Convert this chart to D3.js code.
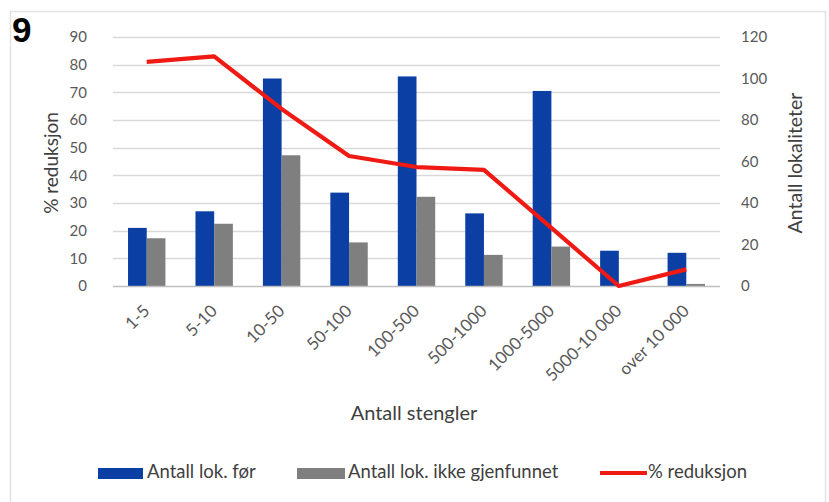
<!DOCTYPE html>
<html>
<head>
<meta charset="utf-8">
<script src="https://cdn.jsdelivr.net/npm/d3@7"></script>
<style>
  html, body { margin: 0; padding: 0; background: #fff; }
  svg { display: block; }
  text { font-family: Lato, "Open Sans", sans-serif; }
</style>
</head>
<body>
<svg id="chart" width="829" height="502"></svg>
<script>
// Antall lokaliteter per størrelsesklasse (antall stengler)
const categories = ["1-5", "5-10", "10-50", "50-100", "100-500", "500-1000", "1000-5000", "5000-10 000", "over 10 000"];
const antallFor = [28, 36, 100, 45, 101, 35, 94, 17, 16];
const antallIkkeGjenfunnet = [23, 30, 63, 21, 43, 15, 19, 0, 1];
const prosentReduksjon = [81, 83, 64, 47, 43, 42, 21, 0, 6];
const leftTicks = [0, 10, 20, 30, 40, 50, 60, 70, 80, 90];
const rightTicks = [0, 20, 40, 60, 80, 100, 120];

const svg = d3.select("#chart");
const W = 829, H = 502;
const plot = { left: 113, right: 720, top: 37, bottom: 286 };
const BLUE = "#0b3fa3", GREY = "#7f7f7f", RED = "#f01a14";

// frame
svg.append("path")
  .attr("d", `M10.5,${H} V11.5 H825.5 V${H}`)
  .attr("fill", "none").attr("stroke", "#e2e2e2").attr("stroke-width", 1.5);

svg.append("text").attr("x", 12).attr("y", 42)
  .style("font-family", "'Liberation Sans', Arial, sans-serif")
  .style("font-weight", "bold").style("font-size", "35px").attr("fill", "#000")
  .text("9");

const x = d3.scaleBand().domain(categories).range([plot.left, plot.right]);
const yL = d3.scaleLinear().domain([0, 90]).range([plot.bottom, plot.top]);
const yR = d3.scaleLinear().domain([0, 120]).range([plot.bottom, plot.top]);

// gridlines
svg.append("g").selectAll("line").data(leftTicks.slice(1)).join("line")
  .attr("x1", plot.left).attr("x2", plot.right)
  .attr("y1", d => Math.round(yL(d)) + 0.5).attr("y2", d => Math.round(yL(d)) + 0.5)
  .attr("stroke", "#d9d9d9").attr("stroke-width", 1.3);

// left axis labels
const axL = svg.append("g").attr("transform", `translate(${plot.left - 26},0)`)
  .call(d3.axisLeft(yL).tickValues(leftTicks).tickSize(0).tickPadding(0));
axL.select(".domain").remove();
axL.selectAll("text").style("font-size", "15px").attr("fill", "#595959")
  .style("font-family", "Lato, sans-serif");

// right axis labels
const axR = svg.append("g").attr("transform", `translate(${plot.right + 21},0)`)
  .call(d3.axisRight(yR).tickValues(rightTicks).tickSize(0).tickPadding(0));
axR.select(".domain").remove();
axR.selectAll("text").style("font-size", "15px").attr("fill", "#595959")
  .style("font-family", "Lato, sans-serif");

// bars
const barW = 18.7;
const bars = svg.append("g");
bars.selectAll("rect.for").data(categories).join("rect")
  .attr("class", "for")
  .attr("x", d => x(d) + x.bandwidth() / 2 - barW)
  .attr("width", barW)
  .attr("y", (d, i) => yR(antallFor[i]))
  .attr("height", (d, i) => yR(0) - yR(antallFor[i]))
  .attr("fill", BLUE);
bars.selectAll("rect.ikke").data(categories).join("rect")
  .attr("class", "ikke")
  .attr("x", d => x(d) + x.bandwidth() / 2)
  .attr("width", barW)
  .attr("y", (d, i) => yR(antallIkkeGjenfunnet[i]))
  .attr("height", (d, i) => yR(0) - yR(antallIkkeGjenfunnet[i]))
  .attr("fill", GREY);

// baseline
svg.append("line").attr("x1", plot.left).attr("x2", plot.right)
  .attr("y1", plot.bottom + 0.5).attr("y2", plot.bottom + 0.5)
  .attr("stroke", "#bfbfbf").attr("stroke-width", 1.3);

// x axis labels, slanted
const axX = svg.append("g").attr("transform", `translate(0,${plot.bottom})`)
  .call(d3.axisBottom(x).tickSize(0).tickPadding(0));
axX.select(".domain").remove();
axX.selectAll("text")
  .style("font-size", "17px").attr("fill", "#595959")
  .style("font-family", "Lato, sans-serif")
  .attr("text-anchor", "end").attr("x", 0).attr("y", 0).attr("dy", 0)
  .attr("transform", "translate(4,26) rotate(-45)");

// % reduksjon line
const line = d3.line()
  .x((d, i) => x(categories[i]) + x.bandwidth() / 2)
  .y(d => yL(d));
svg.append("path").datum(prosentReduksjon)
  .attr("d", line).attr("fill", "none")
  .attr("stroke", RED).attr("stroke-width", 4.2)
  .attr("stroke-linejoin", "round");

// axis titles
svg.append("text").attr("transform", "translate(58,163) rotate(-90)")
  .attr("text-anchor", "middle").style("font-size", "19px").attr("fill", "#404040")
  .text("% reduksjon");
svg.append("text").attr("transform", "translate(802,163) rotate(-90)")
  .attr("text-anchor", "middle").style("font-size", "19.5px").attr("fill", "#404040")
  .text("Antall lokaliteter");
svg.append("text").attr("x", 414).attr("y", 420)
  .attr("text-anchor", "middle").style("font-size", "20px").attr("fill", "#404040")
  .text("Antall stengler");

// legend
const legend = svg.append("g").style("font-size", "18.5px").attr("fill", "#404040");
legend.append("rect").attr("x", 98).attr("y", 468).attr("width", 45).attr("height", 11).attr("fill", BLUE);
legend.append("text").attr("x", 147).attr("y", 478).text("Antall lok. før");
legend.append("rect").attr("x", 297).attr("y", 468).attr("width", 48).attr("height", 11).attr("fill", GREY);
legend.append("text").attr("x", 348).attr("y", 478).text("Antall lok. ikke gjenfunnet");
legend.append("line").attr("x1", 600).attr("x2", 647).attr("y1", 473).attr("y2", 473)
  .attr("stroke", RED).attr("stroke-width", 4);
legend.append("text").attr("x", 648).attr("y", 478).text("% reduksjon");
</script>
</body>
</html>
